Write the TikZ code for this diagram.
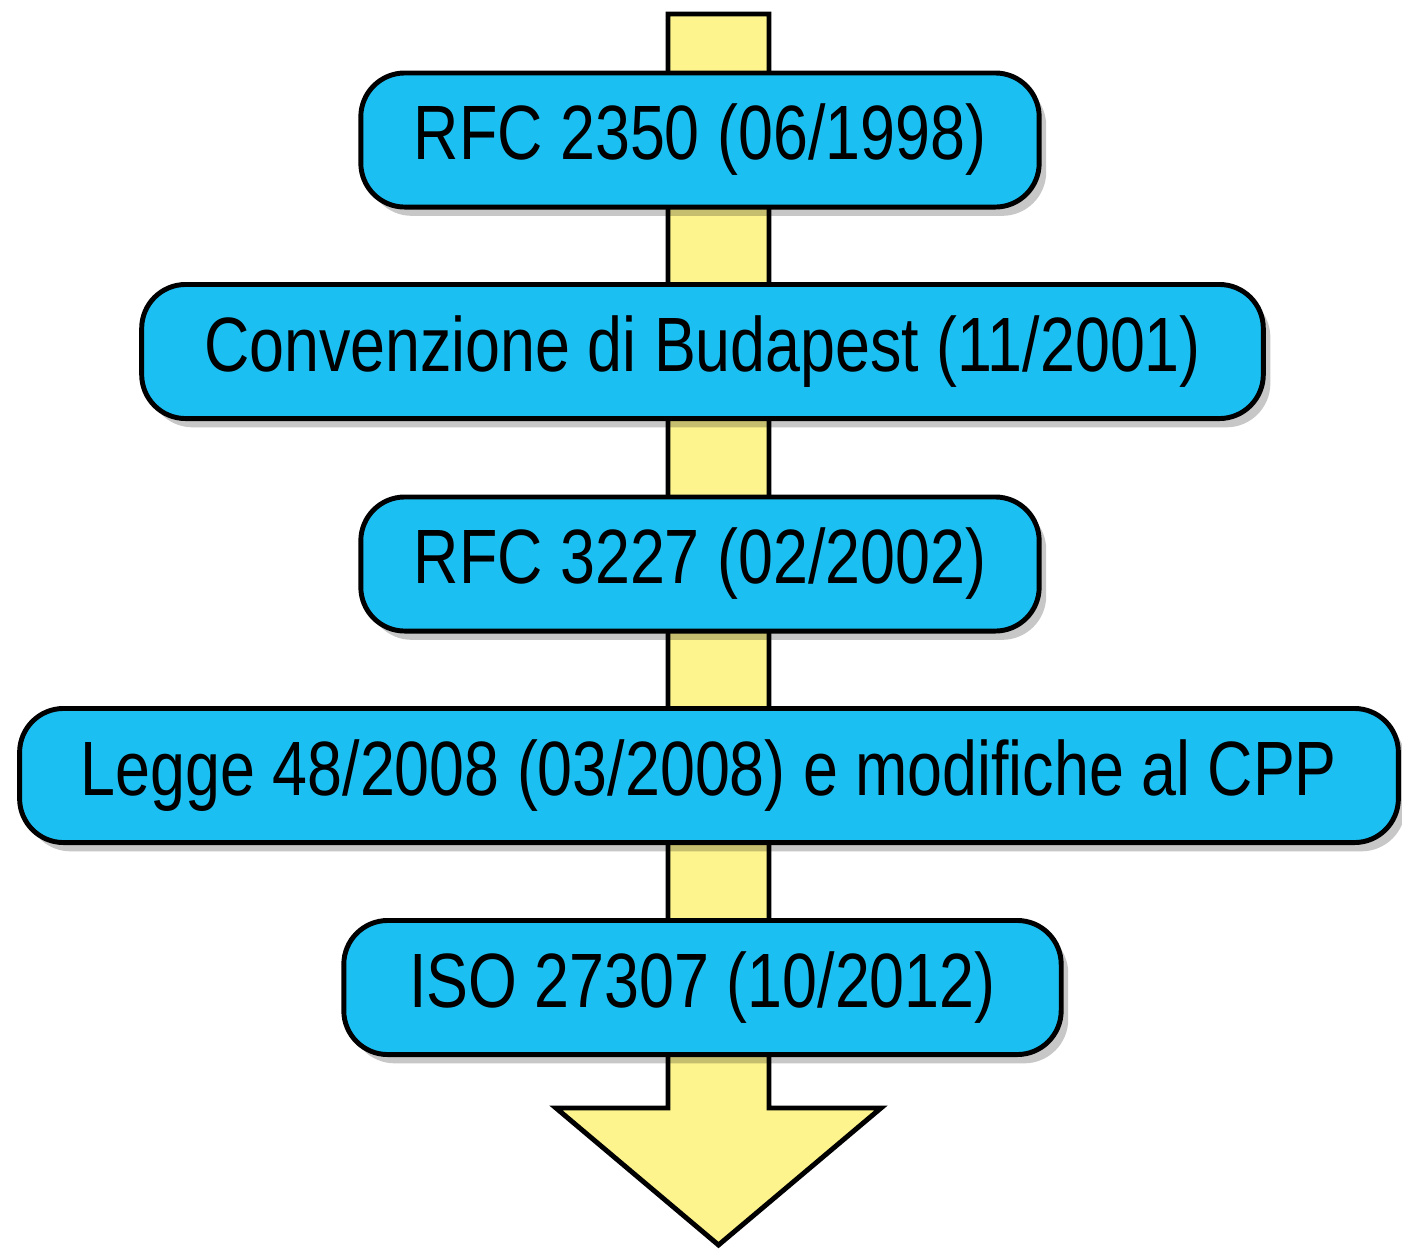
\documentclass[tikz,border=0pt]{standalone}
\usepackage{fontspec}
\setmainfont{Liberation Sans}[FakeStretch=0.815]
\usepackage{xcolor}
\usepackage{tikz}
\usetikzlibrary{shapes,arrows,shadows}

\definecolor{azzurro}{RGB}{28,191,242}
\definecolor{giallo}{RGB}{253,244,142}

\tikzset{
  tappa/.style={draw=black, line width=1.4pt, fill=azzurro, rectangle,
    rounded corners=12.5pt, minimum height=1.34cm, inner sep=0pt,
    font=\fontsize{21.9}{26}\selectfont,
    drop shadow={shadow xshift=2pt, shadow yshift=-2.5pt, opacity=0.22, fill=black}}
}

\begin{document}
\begin{tikzpicture}[x=0.01cm, y=-0.01cm]
\useasboundingbox (0,0) rectangle (1402,1250);

% Timeline arrow
\draw[line width=1.4pt, fill=giallo, line join=miter]
  (668,14) -- (769,14) -- (769,1108) -- (881,1108) -- (718.5,1245)
  -- (556,1108) -- (668,1108) -- cycle;

% Milestones
\node[tappa, minimum width=6.78cm] (rfcA) at (700,140) {RFC 2350 (06/1998)};
\node[tappa, minimum width=11.21cm] (budapest) at (702.5,351.5) {Convenzione di Budapest (11/2001)};
\node[tappa, minimum width=6.78cm] (rfcB) at (700,564) {RFC 3227 (02/2002)};
\node[tappa, minimum width=13.78cm] (legge) at (709,775.5) {Legge 48/2008 (03/2008) e modifiche al CPP};
\node[tappa, minimum width=7.17cm] (iso) at (702.5,987.5) {ISO 27307 (10/2012)};
\end{tikzpicture}
\end{document}
